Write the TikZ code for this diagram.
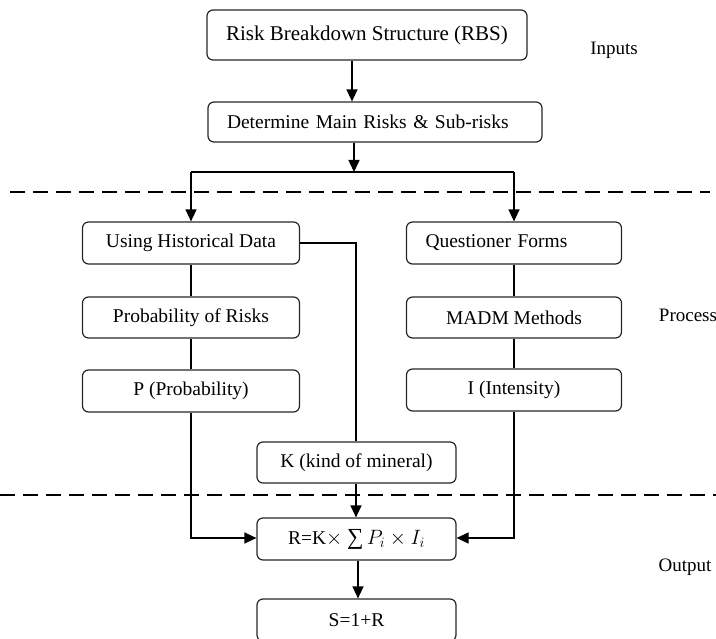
\documentclass[tikz,border=0pt]{standalone}
\usepackage{fontspec}
\setmainfont{Liberation Serif}
\usetikzlibrary{arrows.meta}
\begin{document}
\begin{tikzpicture}[x=1pt,y=-1pt,
  box/.style={draw=black!85,line width=1.2pt,rounded corners=6pt,inner sep=0pt,
    font=\fontsize{19.5}{22}\selectfont},
  leftbox/.style={box,align=left,inner xsep=19pt},
  link/.style={line width=1.4pt},
  arr/.style={link,-{Triangle[length=12pt,width=11pt]}},
  sep/.style={line width=1.3pt,dash pattern=on 15pt off 8pt},
  tag/.style={font=\fontsize{19}{22}\selectfont}]
  \clip (0,0) rectangle (716,639);
  \useasboundingbox (0,0) rectangle (716,639);

  % boxes
  \node[box,minimum width=320pt,minimum height=50pt,font=\fontsize{21}{24}\selectfont]
    (rbs) at (367,35) {Risk Breakdown Structure (RBS)};
  \node[leftbox,text width=296pt,minimum height=40pt] (det) at (375,122)
    {Determine Main Risks \& Sub-risks};
  \node[box,minimum width=217pt,minimum height=42pt] (hist) at (191,243) {Using Historical Data};
  \node[box,minimum width=217pt,minimum height=41pt] (prob) at (191,317.5) {Probability of Risks};
  \node[box,minimum width=217pt,minimum height=42pt] (pp) at (191,391) {P (Probability)};
  \node[leftbox,text width=177pt,minimum height=42pt] (ques) at (514,243) {Questioner Forms};
  \node[box,minimum width=215pt,minimum height=41pt] (madm) at (514,317.5) {MADM Methods};
  \node[box,minimum width=215pt,minimum height=42pt] (ii) at (514,390) {I (Intensity)};
  \node[box,minimum width=199pt,minimum height=41pt] (kk) at (356.5,462.5) {K (kind of mineral)};
  \node[box,minimum width=199pt,minimum height=42pt] (rr) at (356.5,539)
    {R=K$\times$ {\fontsize{23}{24}\selectfont ∑}\,$P_i\times I_i$};
  \node[box,minimum width=199pt,minimum height=42pt] (ss) at (356.5,620) {S=1+R};

  % phase labels
  \node[tag] (lin) at (614,50) {Inputs};
  \node[tag] (lpr) at (688,315) {Process};
  \node[tag] (lout) at (685,567) {Output};

  % phase separators
  \coordinate (s1a) at (10,192);
  \coordinate (s1b) at (710,192);
  \coordinate (s2a) at (0,495);
  \coordinate (s2b) at (716,495);
  \draw[sep] (s1a) -- (s1b);
  \draw[sep] (s2a) -- (s2b);

  % connector guides
  \coordinate (c1) at (352,0);
  \coordinate (c2) at (354,172);
  \coordinate (split) at (0,172);
  \coordinate (kx) at (356,0);
  \coordinate (mrg) at (0,538);
  \coordinate (c3) at (358,0);

  \draw[arr] (rbs.south -| c1) -- (det.north -| c1);
  \draw[arr] (det.south -| c2) -- (c2);
  \draw[link] (split -| hist) -- (split -| ques);
  \draw[arr] (split -| hist) -- (hist.north);
  \draw[arr] (split -| ques) -- (ques.north);

  \draw[link] (hist) -- (prob);
  \draw[link] (prob) -- (pp);
  \draw[link] (ques) -- (madm);
  \draw[link] (madm) -- (ii);

  \draw[link] (hist.east) -- (hist.east -| kx) -- (kk.north -| kx);
  \draw[arr] (kk.south -| kx) -- (rr.north -| kx);
  \draw[arr] (pp.south) -- (mrg -| pp) -- (rr.west |- mrg);
  \draw[arr] (ii.south) -- (mrg -| ii) -- (rr.east |- mrg);
  \draw[arr] (rr.south -| c3) -- (ss.north -| c3);
\end{tikzpicture}
\end{document}
